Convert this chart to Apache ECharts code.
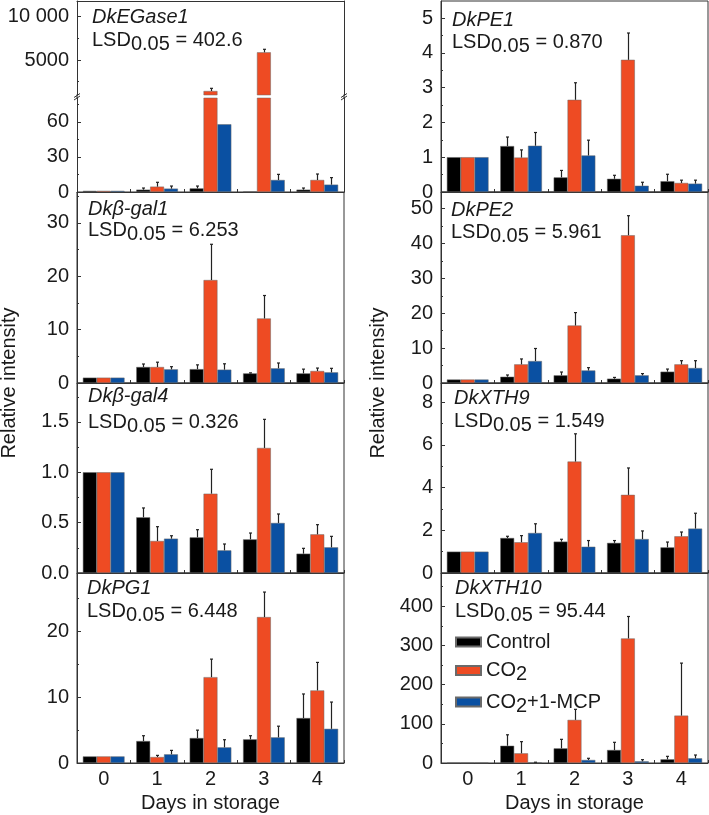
<!DOCTYPE html>
<html><head><meta charset="utf-8">
<script src="https://cdn.jsdelivr.net/npm/echarts@6/dist/echarts.min.js"></script>
<style>html,body{margin:0;padding:0;background:#fff}#c{width:709px;height:815px}</style>
</head><body><div id="c"></div>
<script>
// ---------------- DATA ----------------
const days = ['0', '1', '2', '3', '4'];
const groups = ['Control', 'CO2', 'CO2+1-MCP'];

// means per group [Control, CO2, CO2+1-MCP] and upper error (SD)
const egase1Mean = [[1, 2.0, 3.1, 0.5, 2.0], [1, 4.6, 1420, 5890, 10.3], [1, 2.9, 58, 10.3, 6.3]];
const egase1Err  = [[0, 1.4, 2.0, 0, 1.4], [0, 3.7, 310, 345, 5.1], [0, 2.2, 0, 4.8, 6.0]];
const egase1TicksLow = [0, 30, 60];
const egase1TicksHigh = [5000, 10000];

const bgal1Mean = [[1, 3.0, 2.6, 1.8, 1.8], [1, 3.0, 19.3, 12.1, 2.25], [1, 2.56, 2.5, 2.75, 2.0]];
const bgal1Err  = [[0, 0.56, 0.8, 0.1, 0.8], [0, 0.9, 6.7, 4.3, 0.55], [0, 0.5, 1.1, 1.0, 0.75]];
const bgal1Ticks = [0, 10, 20, 30];

const bgal4Mean = [[1, 0.553, 0.354, 0.334, 0.192], [1, 0.318, 0.788, 1.242, 0.384], [1, 0.341, 0.225, 0.497, 0.255]];
const bgal4Err  = [[0, 0.093, 0.076, 0.063, 0.053], [0, 0.142, 0.242, 0.284, 0.096], [0, 0.029, 0.063, 0.089, 0.109]];
const bgal4Ticks = [0, 0.5, 1.0, 1.5];

const pg1Mean = [[1, 3.34, 3.8, 3.6, 6.84], [1, 0.91, 13.06, 22.2, 11.04], [1, 1.32, 2.38, 3.9, 5.2]];
const pg1Err  = [[0, 0.81, 1.2, 0.55, 3.66], [0, 0.25, 2.74, 3.8, 4.26], [0, 0.6, 1.16, 1.7, 4.07]];
const pg1Ticks = [0, 10, 20];

const pe1Mean = [[1, 1.32, 0.42, 0.38, 0.31], [1, 0.99, 2.65, 3.80, 0.26], [1, 1.33, 1.05, 0.18, 0.24]];
const pe1Err  = [[0, 0.26, 0.2, 0.1, 0.2], [0, 0.22, 0.49, 0.77, 0.08], [0, 0.38, 0.44, 0.1, 0.1]];
const pe1Ticks = [0, 1, 2, 3, 4, 5];

const pe2Mean = [[1, 1.8, 2.2, 1.24, 3.25], [1, 5.35, 16.5, 42.4, 5.35], [1, 6.3, 3.6, 2.2, 4.3]];
const pe2Err  = [[0, 0.5, 0.95, 0.36, 0.75], [0, 1.55, 3.7, 5.6, 1.05], [0, 3.6, 0.8, 0.5, 2.1]];
const pe2Ticks = [0, 10, 20, 30, 40, 50];

const xth9Mean = [[1, 1.64, 1.47, 1.41, 1.2], [1, 1.44, 5.22, 3.66, 1.72], [1, 1.875, 1.23, 1.59, 2.08]];
const xth9Err  = [[0, 0.08, 0.11, 0.11, 0.25], [0, 0.31, 1.3, 1.26, 0.2], [0, 0.43, 0.29, 0.38, 0.72]];
const xth9Ticks = [0, 2, 4, 6, 8];

const xth10Mean = [[1, 44, 37.4, 33.2, 9.4], [1, 24.7, 110, 318, 121], [1, 1.5, 7.7, 4.3, 12]];
const xth10Err  = [[0, 28, 23, 19.6, 7.6], [0, 29.8, 27, 56, 134], [0, 0.5, 4.3, 4.2, 8.4]];
const xth10Ticks = [0, 100, 200, 300, 400];

// ---------------- STYLE / LAYOUT ----------------
const FONT = "'Liberation Sans', Arial, Helvetica, sans-serif";
const FS = 20;
const TXT = '#1a1a1a';
const LINE = '#333';
const COLORS = ['#000000', '#EE4B23', '#0A50A2'];
const W = 267;
const BARW = 0.26;

const grids = [], xAxes = [], yAxes = [], series = [], titles = [], graphics = [];

function minorsOf(majors, yMin, yMax) {
  const step = majors[1] - majors[0];
  let v = majors[0] + step / 2;
  while (v - step > yMin) v -= step;
  const out = [];
  for (; v < yMax - 1e-9; v += step) if (v > yMin) out.push(+v.toFixed(6));
  return out;
}

function addGrid(left, top, height, yMin, yMax, majors, fmt, opts) {
  opts = opts || {};
  const gi = grids.length;
  const broken = !!opts.broken;
  grids.push({ left: left, top: top, width: W, height: height, show: !broken,
    borderColor: LINE, borderWidth: 1, backgroundColor: 'transparent' });
  const xi = xAxes.length;
  const isHigh = opts.broken === 'high';
  xAxes.push({
    type: 'category', gridIndex: gi, data: days, position: isHigh ? 'top' : 'bottom',
    axisLine: { show: true, lineStyle: { color: LINE, width: 1 } },
    axisTick: { show: !isHigh, inside: true, length: 3, interval: 0, lineStyle: { color: LINE } },
    axisLabel: { show: !!opts.xLabels, interval: 0, margin: 6, fontSize: FS, color: TXT, fontFamily: FONT },
    name: opts.xName || '', nameLocation: 'middle', nameGap: 30,
    nameTextStyle: { fontSize: FS, color: TXT, fontFamily: FONT, verticalAlign: 'top' }
  });
  const yi = yAxes.length;
  yAxes.push({
    type: 'value', gridIndex: gi, min: yMin, max: yMax, position: 'left',
    axisLine: { show: true, lineStyle: { color: LINE, width: 1 } },
    axisTick: { show: true, inside: true, length: 4, customValues: majors, lineStyle: { color: LINE } },
    axisLabel: { show: true, customValues: majors, formatter: fmt, margin: 8, fontSize: FS, color: TXT, fontFamily: FONT },
    splitLine: { show: false }
  });
  yAxes.push({
    type: 'value', gridIndex: gi, min: yMin, max: yMax, position: 'left',
    axisLine: { show: false },
    axisTick: { show: true, inside: true, length: 2, customValues: minorsOf(majors, yMin, yMax), lineStyle: { color: LINE } },
    axisLabel: { show: false }, splitLine: { show: false }
  });
  if (broken) {
    yAxes.push({
      type: 'value', gridIndex: gi, min: yMin, max: yMax, position: 'right',
      axisLine: { show: true, lineStyle: { color: LINE, width: 1 } },
      axisTick: { show: false }, axisLabel: { show: false }, splitLine: { show: false }
    });
  }
  return { xi: xi, yi: yi };
}

function errRender(k) {
  return function (params, api) {
    const band = api.size([1, 0])[0];
    const off = (k - 1) * band * BARW;
    const c0 = api.coord([api.value(0), api.value(1)]);
    const c1 = api.coord([api.value(0), api.value(2)]);
    const x = Math.round(c0[0] + off) + 0.5;
    return { type: 'group', children: [
      { type: 'line', shape: { x1: x, y1: c0[1], x2: x, y2: c1[1] }, style: { stroke: '#222', lineWidth: 1.2 } },
      { type: 'line', shape: { x1: x - 1.5, y1: c1[1], x2: x + 1.5, y2: c1[1] }, style: { stroke: '#222', lineWidth: 1.2 } }
    ] };
  };
}

function addSeries(ax, means, errs, keepBar, keepErr) {
  for (let k = 0; k < 3; k++) {
    series.push({
      type: 'bar', name: groups[k], xAxisIndex: ax.xi, yAxisIndex: ax.yi,
      data: means[k].map(function (v) { return keepBar(v) ? v : '-'; }),
      barWidth: (BARW * 100) + '%', barGap: '0%', clip: true, silent: true,
      itemStyle: { color: COLORS[k], borderColor: '#6a6a6a', borderWidth: 0.5 }
    });
    const d = [];
    means[k].forEach(function (m, i) {
      const e = errs[k][i];
      if (e > 0 && keepErr(m, m + e)) d.push([i, m, m + e]);
    });
    series.push({
      type: 'custom', xAxisIndex: ax.xi, yAxisIndex: ax.yi, data: d, silent: true, z: 5,
      renderItem: errRender(k)
    });
  }
}

function addLabels(x, geneCy, lsdCy, gene, lsd) {
  titles.push({ text: gene, left: x, top: geneCy - 10, padding: 0,
    textStyle: { fontSize: FS, fontStyle: 'italic', fontWeight: 'normal', color: TXT, fontFamily: FONT, lineHeight: 20 } });
  titles.push({ text: '{a|LSD}{s|0.05}{a| = ' + lsd + '}', left: x, top: lsdCy - 10, padding: 0,
    textStyle: { fontWeight: 'normal', rich: {
      a: { fontSize: FS, lineHeight: 20, color: TXT, fontFamily: FONT },
      s: { fontSize: FS, lineHeight: 20, color: TXT, fontFamily: FONT, padding: [8, 0, 0, 0] }
    } } });
}

const all = function () { return true; };
const num = function (v) { return String(v); };

// ---- Left column ----
const LX = 77, RX = 441;
// broken panel (EGase1)
const HIGH_MIN = 960, HIGH_MAX = 11810, LOW_MAX = 80.5;
const axHigh = addGrid(LX, 1, 94, HIGH_MIN, HIGH_MAX, egase1TicksHigh,
  function (v) { return v === 10000 ? '10 000' : String(v); }, { broken: 'high' });
addSeries(axHigh, egase1Mean, egase1Err, function (v) { return v > HIGH_MIN; }, function (m) { return m > HIGH_MIN; });
const axLow = addGrid(LX, 98, 94, 0, LOW_MAX, egase1TicksLow, num, { broken: 'low' });
addSeries(axLow, egase1Mean, egase1Err, all, function (m, t) { return t <= LOW_MAX; });
addLabels(92, 17.5, 40.5, 'DkEGase1', '402.6');

const axL2 = addGrid(LX, 192, 191, 0, 35.8, bgal1Ticks, num, {});
addSeries(axL2, bgal1Mean, bgal1Err, all, all);
addLabels(88, 209, 230, 'Dk\u03b2-gal1', '6.253');

const axL3 = addGrid(LX, 383, 190, 0, 1.887, bgal4Ticks, function (v) { return v.toFixed(1); }, {});
addSeries(axL3, bgal4Mean, bgal4Err, all, all);
addLabels(88, 396.7, 422.5, 'Dk\u03b2-gal4', '0.326');

const axL4 = addGrid(LX, 573, 190, 0, 28.9, pg1Ticks, num, { xLabels: true, xName: 'Days in storage' });
addSeries(axL4, pg1Mean, pg1Err, all, all);
addLabels(87, 588.8, 611.3, 'DkPG1', '6.448');

// ---- Right column ----
const axR1 = addGrid(RX, 1, 191, 0, 5.49, pe1Ticks, num, {});
addSeries(axR1, pe1Mean, pe1Err, all, all);
addLabels(452, 20.5, 42.5, 'DkPE1', '0.870');

const axR2 = addGrid(RX, 192, 191, 0, 54.8, pe2Ticks, num, {});
addSeries(axR2, pe2Mean, pe2Err, all, all);
addLabels(451, 210, 232.5, 'DkPE2', '5.961');

const axR3 = addGrid(RX, 383, 190, 0, 8.9, xth9Ticks, num, {});
addSeries(axR3, xth9Mean, xth9Err, all, all);
addLabels(454, 398.3, 421.5, 'DkXTH9', '1.549');

const axR4 = addGrid(RX, 573, 190, 0, 485, xth10Ticks, num, { xLabels: true, xName: 'Days in storage' });
addSeries(axR4, xth10Mean, xth10Err, all, all);
addLabels(455, 588.3, 611.5, 'DkXTH10', '95.44');

// ---- decorations: axis break + axis names ----
[LX, LX + W].forEach(function (x) {
  graphics.push({ type: 'line', z: 101, shape: { x1: x, y1: 94.5, x2: x, y2: 98.5 }, style: { stroke: LINE, lineWidth: 1 } });
  graphics.push({ type: 'line', z: 102, shape: { x1: x - 3, y1: 97.5, x2: x + 3, y2: 93.5 }, style: { stroke: LINE, lineWidth: 1 } });
  graphics.push({ type: 'line', z: 102, shape: { x1: x - 3, y1: 100, x2: x + 3, y2: 96 }, style: { stroke: LINE, lineWidth: 1 } });
});
[9, 378].forEach(function (x) {
  graphics.push({ type: 'text', z: 100, x: x, y: 383, rotation: Math.PI / 2,
    style: { text: 'Relative intensity', font: FS + 'px ' + FONT, fill: TXT, align: 'center', verticalAlign: 'middle' } });
});

const option = {
  animation: false,
  backgroundColor: '#fff',
  title: titles,
  grid: grids,
  xAxis: xAxes,
  yAxis: yAxes,
  series: series,
  graphic: { elements: graphics },
  legend: {
    data: groups, left: 455, top: 631, orient: 'vertical', icon: 'rect',
    itemWidth: 25, itemHeight: 9, itemGap: 3.5, selectedMode: false, padding: 0,
    formatter: function (n) { return n.replace('CO2', 'CO{s|2}'); },
    textStyle: { fontSize: FS, color: TXT, fontFamily: FONT, lineHeight: 22,
      rich: { s: { fontSize: FS, color: TXT, fontFamily: FONT, lineHeight: 22, padding: [8, 0, 0, 0] } } }
  }
};

const chart = echarts.init(document.getElementById('c'), null, { renderer: 'canvas' });
chart.setOption(option);
</script>
</body></html>
